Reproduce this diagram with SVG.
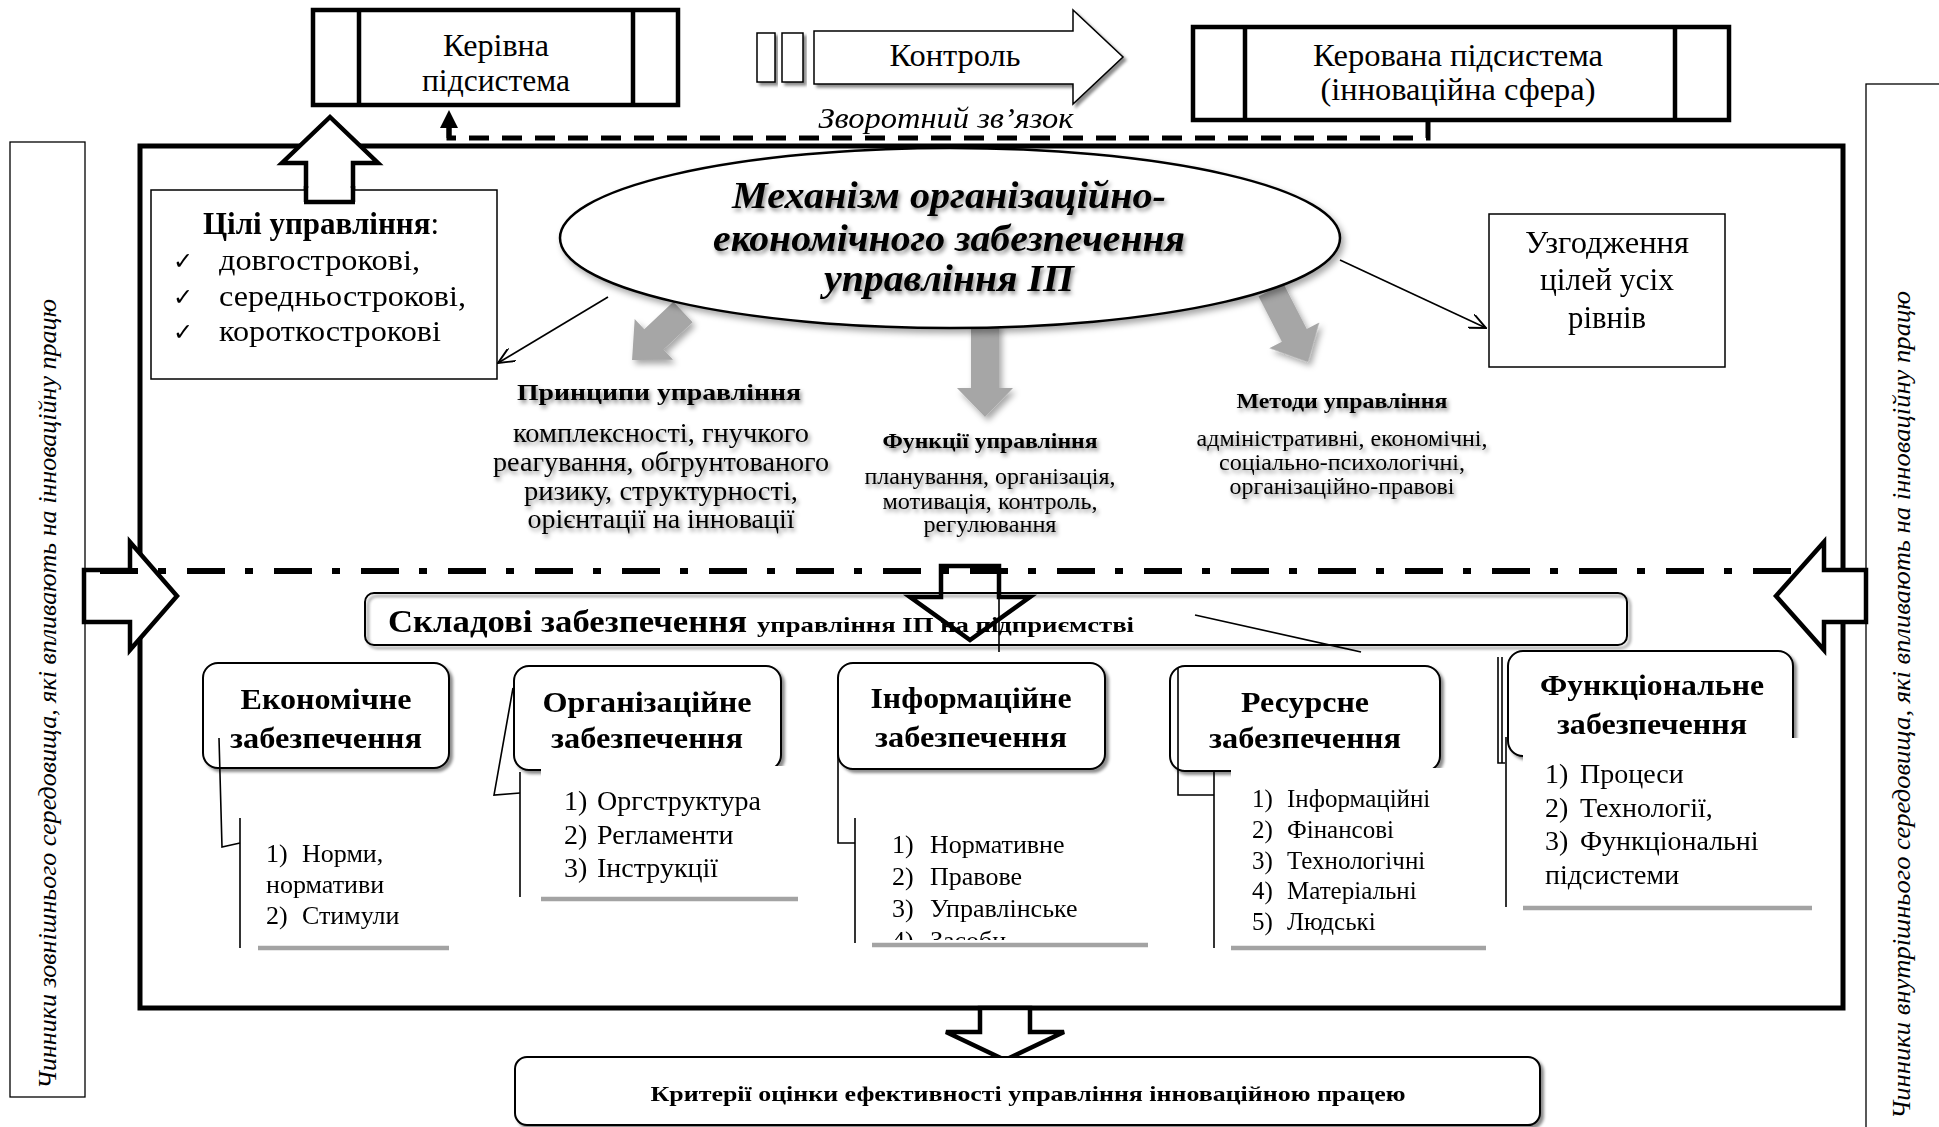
<svg xmlns="http://www.w3.org/2000/svg" width="1939" height="1127" viewBox="0 0 1939 1127">
<defs>
<style>
text{font-family:"Liberation Serif","Times New Roman",serif;fill:#000}
.b{font-weight:bold}
.i{font-style:italic}
.m{text-anchor:middle}
.thick{fill:#fff;stroke:#000;stroke-width:4.5}
.thin{fill:none;stroke:#000;stroke-width:1.6}
.box{fill:#fff;stroke:#000;stroke-width:2}
.gray{stroke:#a3a3a3;stroke-width:4.5;fill:none}
.garrow{fill:#a6a6a6}
</style>
<filter id="sh" x="-10%" y="-10%" width="125%" height="135%"><feDropShadow dx="3" dy="3" stdDeviation="1.5" flood-color="#000" flood-opacity="0.45"/></filter>
<filter id="glow" x="-10%" y="-30%" width="125%" height="170%"><feDropShadow dx="2" dy="3" stdDeviation="2" flood-color="#000" flood-opacity="0.45"/></filter>
<filter id="soft" x="-30%" y="-30%" width="170%" height="170%"><feDropShadow dx="3" dy="4" stdDeviation="3" flood-color="#000" flood-opacity="0.35"/></filter>
<marker id="open" viewBox="0 0 12 10" refX="11" refY="5" markerWidth="18" markerHeight="15" markerUnits="userSpaceOnUse" orient="auto"><path d="M0,0 L11,5 L0,10" fill="none" stroke="#000" stroke-width="1.3"/></marker>
<clipPath id="clipInfo"><rect x="850" y="815" width="300" height="125"/></clipPath>
</defs>
<rect width="1939" height="1127" fill="#fff"/>

<!-- side factor boxes -->
<g id="external-factors">
<rect x="10" y="142" width="75" height="955" fill="#fff" stroke="#000" stroke-width="1.3"/>
<text class="i m" font-size="25" transform="translate(56,694) rotate(-90)" textLength="790" lengthAdjust="spacingAndGlyphs">Чинники зовнішнього середовища, які впливають на інноваційну працю</text>
</g>
<g id="internal-factors">
<rect x="1866" y="84" width="120" height="1100" fill="#fff" stroke="#000" stroke-width="1.3"/>
<text class="i m" font-size="25" transform="translate(1910,705) rotate(-90)" textLength="828" lengthAdjust="spacingAndGlyphs">Чинники внутрішнього середовища, які впливають на інноваційну працю</text>
</g>

<!-- main frame -->
<g id="mechanism-frame">
<rect x="140" y="146" width="1703" height="862" fill="none" stroke="#000" stroke-width="5"/>
</g>

<!-- top row -->
<g id="managing-subsystem">
<rect x="313" y="10" width="365" height="95" fill="#fff" stroke="#000" stroke-width="4.5"/>
<line x1="359" y1="10" x2="359" y2="105" stroke="#000" stroke-width="4.5"/>
<line x1="633" y1="10" x2="633" y2="105" stroke="#000" stroke-width="4.5"/>
<text class="m" x="496" y="56" font-size="32" textLength="106" lengthAdjust="spacingAndGlyphs">Керівна</text>
<text class="m" x="496" y="91" font-size="32" textLength="148" lengthAdjust="spacingAndGlyphs">підсистема</text>
</g>
<g id="control">
<rect x="757" y="33" width="18" height="49" fill="#fff" stroke="#000" stroke-width="1.5" filter="url(#sh)"/>
<rect x="782" y="33" width="21" height="49" fill="#fff" stroke="#000" stroke-width="1.5" filter="url(#sh)"/>
<polygon points="814,31 1073,31 1073,10 1123,57 1073,104 1073,84 814,84" fill="#fff" stroke="#000" stroke-width="1.5" filter="url(#sh)"/>
<text class="m" x="955" y="66" font-size="32" textLength="131" lengthAdjust="spacingAndGlyphs">Контроль</text>
</g>
<g id="managed-subsystem">
<rect x="1193" y="27" width="536" height="93" fill="#fff" stroke="#000" stroke-width="4.5"/>
<line x1="1245" y1="27" x2="1245" y2="120" stroke="#000" stroke-width="4.5"/>
<line x1="1675" y1="27" x2="1675" y2="120" stroke="#000" stroke-width="4.5"/>
<text class="m" x="1458" y="66" font-size="32" textLength="290" lengthAdjust="spacingAndGlyphs">Керована підсистема</text>
<text class="m" x="1458" y="100" font-size="32" textLength="275" lengthAdjust="spacingAndGlyphs">(інноваційна сфера)</text>
</g>

<!-- connectors -->
<g id="connectors">
<path d="M1428,120 V138 H449 V128" fill="none" stroke="#000" stroke-width="5" stroke-dasharray="20 13"/>
<polygon points="449,110 440,128 458,128" fill="#000"/>
<line x1="449" y1="126" x2="449" y2="138" stroke="#000" stroke-width="5"/>
<polygon class="thick" points="306,202 306,163 282,163 330,117 378,163 353,163 353,202"/>
<line class="thin" x1="608" y1="297" x2="498" y2="363" marker-end="url(#open)"/>
<line class="thin" x1="1340" y1="260" x2="1486" y2="328" marker-end="url(#open)"/>
<g filter="url(#soft)">
<polygon class="garrow" transform="translate(683,312) rotate(136.7)" points="0,-14 40,-14 40,-28 70,0 40,28 40,14 0,14"/>
<polygon class="garrow" transform="translate(985,323) rotate(90)" points="0,-14 65,-14 65,-28 94,0 65,28 65,14 0,14"/>
<polygon class="garrow" transform="translate(1271,290) rotate(62.8)" points="0,-14 51,-14 51,-28 81,0 51,28 51,14 0,14"/>
</g>
<polygon class="thick" points="84,570 130,570 130,542 177,596 130,650 130,622 84,622"/>
<polygon class="thick" points="1866,570 1824,570 1824,542 1776,596 1824,650 1824,622 1866,622"/>
<line x1="100" y1="571" x2="1800" y2="571" stroke="#000" stroke-width="6" stroke-dasharray="38 20 8 21"/>
<polygon points="941,566 999,566 999,597 1030,597 970,640 910,597 941,597" fill="none" stroke="#000" stroke-width="4.5"/>
<line class="thin" x1="999" y1="597" x2="999" y2="652"/>
<line class="thin" x1="1195" y1="615" x2="1361" y2="652"/>
<polygon class="thick" points="980,1008 1030,1008 1030,1032 1064,1032 1005,1060 946,1032 980,1032"/>
</g>

<text class="i m" x="946" y="128" font-size="30" textLength="255" lengthAdjust="spacingAndGlyphs">Зворотний зв’язок</text>

<!-- central ellipse -->
<g id="mechanism">
<ellipse cx="950" cy="238" rx="390" ry="90" fill="#fff" stroke="#000" stroke-width="2.5" filter="url(#soft)"/>
<g filter="url(#glow)">
<text class="b i m" x="949" y="208" font-size="38" textLength="434" lengthAdjust="spacingAndGlyphs">Механізм організаційно-</text>
<text class="b i m" x="949" y="251" font-size="38" textLength="472" lengthAdjust="spacingAndGlyphs">економічного забезпечення</text>
<text class="b i m" x="949" y="291" font-size="38" textLength="250" lengthAdjust="spacingAndGlyphs">управління ІП</text>
</g>
</g>

<g id="goals">
<rect x="151" y="190" width="346" height="189" fill="#fff" stroke="#000" stroke-width="1.5"/>
<polygon points="308,188 351,188 351,202 308,202" fill="#fff"/>
<line x1="306" y1="186" x2="306" y2="202" stroke="#000" stroke-width="4.5"/>
<line x1="353" y1="186" x2="353" y2="202" stroke="#000" stroke-width="4.5"/>
<line x1="304" y1="202" x2="355" y2="202" stroke="#000" stroke-width="4.5"/>
<text x="203" y="234" font-size="31"><tspan class="b">Цілі управління</tspan>:</text>
<text x="173" y="269" font-size="24" style="font-family:'DejaVu Sans',sans-serif">✓</text>
<text x="173" y="305" font-size="24" style="font-family:'DejaVu Sans',sans-serif">✓</text>
<text x="173" y="340" font-size="24" style="font-family:'DejaVu Sans',sans-serif">✓</text>
<text x="219" y="270" font-size="30" textLength="201" lengthAdjust="spacingAndGlyphs">довгострокові,</text>
<text x="219" y="306" font-size="30" textLength="247" lengthAdjust="spacingAndGlyphs">середньострокові,</text>
<text x="219" y="341" font-size="30" textLength="222" lengthAdjust="spacingAndGlyphs">короткострокові</text>
</g>

<g id="coordination">
<rect x="1489" y="214" width="236" height="153" fill="#fff" stroke="#000" stroke-width="1.5"/>
<text class="m" x="1607" y="253" font-size="31" textLength="164" lengthAdjust="spacingAndGlyphs">Узгодження</text>
<text class="m" x="1607" y="290" font-size="31" textLength="134" lengthAdjust="spacingAndGlyphs">цілей усіх</text>
<text class="m" x="1607" y="328" font-size="31" textLength="78" lengthAdjust="spacingAndGlyphs">рівнів</text>
</g>

<g id="principles" filter="url(#glow)">
<text class="b m" x="659" y="400" font-size="24" textLength="284" lengthAdjust="spacingAndGlyphs">Принципи управління</text>
<text class="m" x="661" y="442" font-size="27" textLength="296" lengthAdjust="spacingAndGlyphs">комплексності, гнучкого</text>
<text class="m" x="661" y="471" font-size="27" textLength="336" lengthAdjust="spacingAndGlyphs">реагування, обгрунтованого</text>
<text class="m" x="661" y="500" font-size="27" textLength="274" lengthAdjust="spacingAndGlyphs">ризику, структурності,</text>
<text class="m" x="661" y="528" font-size="27" textLength="267" lengthAdjust="spacingAndGlyphs">орієнтації на інновації</text>
</g>
<g id="functions" filter="url(#glow)">
<text class="b m" x="990" y="448" font-size="21" textLength="215" lengthAdjust="spacingAndGlyphs">Функції управління</text>
<text class="m" x="990" y="484" font-size="23.5" textLength="251" lengthAdjust="spacingAndGlyphs">планування, організація,</text>
<text class="m" x="990" y="509" font-size="23.5" textLength="215" lengthAdjust="spacingAndGlyphs">мотивація, контроль,</text>
<text class="m" x="990" y="532" font-size="23.5" textLength="133" lengthAdjust="spacingAndGlyphs">регулювання</text>
</g>
<g id="methods" filter="url(#glow)">
<text class="b m" x="1342" y="408" font-size="21" textLength="211" lengthAdjust="spacingAndGlyphs">Методи управління</text>
<text class="m" x="1342" y="446" font-size="24" textLength="291" lengthAdjust="spacingAndGlyphs">адміністративні, економічні,</text>
<text class="m" x="1342" y="470" font-size="24" textLength="246" lengthAdjust="spacingAndGlyphs">соціально-психологічні,</text>
<text class="m" x="1342" y="494" font-size="24" textLength="225" lengthAdjust="spacingAndGlyphs">організаційно-правові</text>
</g>

<g id="components-bar">
<rect x="365" y="593" width="1262" height="52" rx="9" fill="none" stroke="#000" stroke-width="2" filter="url(#sh)"/>
<text class="b" x="388" y="632" font-size="32" textLength="359" lengthAdjust="spacingAndGlyphs">Складові забезпечення</text>
<text class="b" x="757" y="632" font-size="22" textLength="377" lengthAdjust="spacingAndGlyphs">управління ІП на підприємстві</text>
</g>

<!-- economic -->
<g id="economic">
<rect class="box" x="203" y="663" width="246" height="105" rx="15" filter="url(#sh)"/>
<text class="b m" x="326" y="709" font-size="30" textLength="171" lengthAdjust="spacingAndGlyphs">Економічне</text>
<text class="b m" x="326" y="748" font-size="30" textLength="192" lengthAdjust="spacingAndGlyphs">забезпечення</text>
<polyline class="thin" points="219,738 222,847 240,843"/>
<line class="thin" x1="240" y1="818" x2="240" y2="948"/>
<line class="gray" x1="258" y1="948" x2="449" y2="948"/>
<text x="266" y="862" font-size="26">1)<tspan x="302">Норми,</tspan></text>
<text x="266" y="893" font-size="26">нормативи</text>
<text x="266" y="924" font-size="26">2)<tspan x="302">Стимули</tspan></text>
</g>

<!-- organizational -->
<g id="organizational">
<rect class="box" x="514" y="666" width="267" height="104" rx="15" filter="url(#sh)"/>
<rect x="541" y="766" width="260" height="130" fill="#fff"/>
<text class="b m" x="647" y="712" font-size="30" textLength="209" lengthAdjust="spacingAndGlyphs">Організаційне</text>
<text class="b m" x="647" y="748" font-size="30" textLength="192" lengthAdjust="spacingAndGlyphs">забезпечення</text>
<polyline class="thin" points="513,688 494,795 520,793"/>
<line class="thin" x1="520" y1="772" x2="520" y2="897"/>
<line class="gray" x1="541" y1="899" x2="798" y2="899"/>
<text x="564" y="810" font-size="28">1)<tspan x="597">Оргструктура</tspan></text>
<text x="564" y="844" font-size="28">2)<tspan x="597">Регламенти</tspan></text>
<text x="564" y="877" font-size="28">3)<tspan x="597">Інструкції</tspan></text>
</g>

<!-- informational -->
<g id="informational">
<rect class="box" x="838" y="663" width="267" height="106" rx="15" filter="url(#sh)"/>
<text class="b m" x="971" y="708" font-size="30" textLength="201" lengthAdjust="spacingAndGlyphs">Інформаційне</text>
<text class="b m" x="971" y="747" font-size="30" textLength="192" lengthAdjust="spacingAndGlyphs">забезпечення</text>
<polyline class="thin" points="838,697 838,843 855,843"/>
<line class="thin" x1="855" y1="818" x2="855" y2="943"/>
<line class="gray" x1="872" y1="945" x2="1148" y2="945"/>
<g clip-path="url(#clipInfo)">
<text x="892" y="853" font-size="26">1)<tspan x="930">Нормативне</tspan></text>
<text x="892" y="885" font-size="26">2)<tspan x="930">Правове</tspan></text>
<text x="892" y="917" font-size="26">3)<tspan x="930">Управлінське</tspan></text>
<text x="892" y="949" font-size="26">4)<tspan x="930">Засоби</tspan></text>
</g>
</g>

<!-- resource -->
<g id="resource">
<rect class="box" x="1170" y="666" width="270" height="105" rx="15" filter="url(#sh)"/>
<rect x="1231" y="768" width="260" height="178" fill="#fff"/>
<text class="b m" x="1305" y="712" font-size="30" textLength="128" lengthAdjust="spacingAndGlyphs">Ресурсне</text>
<text class="b m" x="1305" y="748" font-size="30" textLength="192" lengthAdjust="spacingAndGlyphs">забезпечення</text>
<polyline class="thin" points="1178,668 1178,795 1214,795"/>
<line class="thin" x1="1214" y1="771" x2="1214" y2="948"/>
<line class="gray" x1="1231" y1="948" x2="1486" y2="948"/>
<text x="1252" y="807" font-size="25">1)<tspan x="1287">Інформаційні</tspan></text>
<text x="1252" y="838" font-size="25">2)<tspan x="1287">Фінансові</tspan></text>
<text x="1252" y="869" font-size="25">3)<tspan x="1287">Технологічні</tspan></text>
<text x="1252" y="899" font-size="25">4)<tspan x="1287">Матеріальні</tspan></text>
<text x="1252" y="930" font-size="25">5)<tspan x="1287">Людські</tspan></text>
</g>

<!-- functional -->
<g id="functional">
<rect class="box" x="1508" y="651" width="285" height="105" rx="15" filter="url(#sh)"/>
<rect x="1523" y="738" width="292" height="168" fill="#fff"/>
<text class="b m" x="1652" y="695" font-size="30" textLength="224" lengthAdjust="spacingAndGlyphs">Функціональне</text>
<text class="b m" x="1652" y="734" font-size="30" textLength="190" lengthAdjust="spacingAndGlyphs">забезпечення</text>
<polyline class="thin" points="1498,657 1498,763 1505,763"/>
<line class="thin" x1="1502" y1="657" x2="1502" y2="763"/>
<line class="thin" x1="1506" y1="737" x2="1506" y2="907"/>
<line class="gray" x1="1523" y1="908" x2="1812" y2="908"/>
<text x="1545" y="783" font-size="28">1)<tspan x="1580">Процеси</tspan></text>
<text x="1545" y="817" font-size="28">2)<tspan x="1580">Технології,</tspan></text>
<text x="1545" y="850" font-size="28">3)<tspan x="1580">Функціональні</tspan></text>
<text x="1545" y="884" font-size="28">підсистеми</text>
</g>

<g id="criteria">
<rect x="515" y="1057" width="1025" height="68" rx="12" fill="#fff" stroke="#000" stroke-width="2" filter="url(#sh)"/>
<text class="b m" x="1028" y="1101" font-size="22" textLength="755" lengthAdjust="spacingAndGlyphs">Критерії оцінки ефективності управління інноваційною працею</text>
</g>
</svg>
